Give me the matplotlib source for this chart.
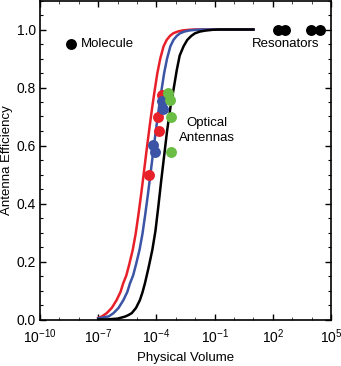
import numpy as np
import matplotlib.pyplot as plt
from matplotlib.ticker import FixedLocator, LogFormatterSciNotation, NullFormatter

plt.rcParams['font.family'] = ['Liberation Sans', 'DejaVu Sans']
plt.rcParams['mathtext.fontset'] = 'custom'
plt.rcParams['mathtext.rm'] = 'Liberation Sans'
plt.rcParams['mathtext.it'] = 'Liberation Sans'

# curves: log10(volume) vs efficiency
red_logv = [-7.0, -6.8, -6.56, -6.3, -6.05, -5.85, -5.71, -5.55, -5.4, -5.22, -5.07, -4.93,
            -4.78, -4.64, -4.5, -4.35, -4.22, -4.1, -3.95, -3.8, -3.63, -3.47, -3.3, -3.13,
            -2.9, -2.63, -2.3, -2.0, 1.0]
red_eff = [0.005, 0.011, 0.022, 0.040, 0.067, 0.095, 0.125, 0.152, 0.19, 0.24, 0.295, 0.36,
           0.435, 0.51, 0.587, 0.665, 0.73, 0.785, 0.85, 0.90, 0.942, 0.964, 0.978, 0.987,
           0.993, 0.997, 0.999, 1.0, 1.0]

blue_logv = [-7.0, -6.75, -6.45, -6.21, -5.95, -5.7, -5.5, -5.36, -5.2, -5.05, -4.87, -4.72,
             -4.58, -4.43, -4.29, -4.15, -4.0, -3.87, -3.75, -3.6, -3.45, -3.28, -3.12, -2.95,
             -2.78, -2.55, -2.28, -1.95, -1.65, 1.0]
blue_eff = [0.004, 0.007, 0.011, 0.022, 0.040, 0.067, 0.095, 0.125, 0.152, 0.19, 0.24, 0.295,
            0.36, 0.435, 0.51, 0.587, 0.665, 0.73, 0.785, 0.85, 0.90, 0.942, 0.964, 0.978,
            0.987, 0.993, 0.997, 0.999, 1.0, 1.0]

black_logv = [-7.0, -6.5, -6.0, -5.62, -5.45, -5.27, -5.05, -4.85, -4.72, -4.59, -4.4, -4.21,
              -4.05, -3.9, -3.75, -3.6, -3.45, -3.28, -3.1, -2.95, -2.8, -2.6, -2.41, -2.2,
              -2.01, -1.75, -1.5, -1.1, -0.8, 1.0]
black_eff = [0.0, 0.0005, 0.003, 0.01, 0.015, 0.022, 0.040, 0.067, 0.093, 0.125, 0.18, 0.24,
             0.305, 0.39, 0.48, 0.565, 0.65, 0.73, 0.80, 0.86, 0.91, 0.942, 0.964, 0.978,
             0.987, 0.993, 0.996, 0.999, 1.0, 1.0]

# optical antenna points
red_pts_logv = [-3.70, -3.92, -3.87, -4.37]
red_pts_eff = [0.774, 0.70, 0.65, 0.50]
blue_pts_logv = [-3.73, -3.64, -4.19, -4.07]
blue_pts_eff = [0.753, 0.725, 0.602, 0.579]
green_pts_logv = [-3.39, -3.30, -3.26, -3.25]
green_pts_eff = [0.78, 0.757, 0.70, 0.579]

molecule_logv = [-8.42]
molecule_eff = [0.951]
resonator_logv = [2.27, 2.63, 3.97, 4.45]
resonator_eff = [1.0, 1.0, 1.0, 1.0]

RED = '#e8202a'
BLUE = '#3b54a5'
GREEN = '#6cbd45'

fig = plt.figure(figsize=(3.41, 3.66), dpi=100)
ax = fig.add_axes([40 / 341, 1 - 319.5 / 366, 291 / 341, 319 / 366])

ax.plot(10 ** np.array(red_logv), red_eff, color=RED, lw=1.8, zorder=2)
ax.plot(10 ** np.array(blue_logv), blue_eff, color=BLUE, lw=1.8, zorder=2)
ax.plot(10 ** np.array(black_logv), black_eff, color='black', lw=1.8, zorder=2)

ms = 62
ax.scatter(10 ** np.array(red_pts_logv), red_pts_eff, s=ms, color=RED, lw=0, zorder=3)
ax.scatter(10 ** np.array(blue_pts_logv), blue_pts_eff, s=ms, color=BLUE, lw=0, zorder=4)
ax.scatter(10 ** np.array(green_pts_logv), green_pts_eff, s=ms, color=GREEN, lw=0, zorder=5)
ax.scatter(10 ** np.array(molecule_logv), molecule_eff, s=ms, color='black', lw=0, zorder=5)
ax.scatter(10 ** np.array(resonator_logv), resonator_eff, s=ms, color='black', lw=0, zorder=5)

ax.text(10 ** -7.88, 0.951, 'Molecule', fontsize=9.5, va='center', ha='left')
ax.text(10 ** 2.65, 0.951, 'Resonators', fontsize=9.5, va='center', ha='center')
ax.text(10 ** -1.39, 0.652, 'Optical\nAntennas', fontsize=9.5, va='center', ha='center',
        linespacing=1.3)

ax.set_xscale('log')
ax.set_xlim(1e-10, 1e5)
ax.set_ylim(0, 1.1)
ax.xaxis.set_major_locator(FixedLocator([1e-10, 1e-7, 1e-4, 1e-1, 1e2, 1e5]))
ax.xaxis.set_major_formatter(LogFormatterSciNotation())
ax.xaxis.set_minor_locator(FixedLocator([10.0 ** k for k in range(-10, 6)]))
ax.xaxis.set_minor_formatter(NullFormatter())
ax.set_yticks([0.0, 0.2, 0.4, 0.6, 0.8, 1.0])
ax.set_yticklabels(['0.0', '0.2', '0.4', '0.6', '0.8', '1.0'])
ax.set_yticks(np.arange(0, 1.101, 0.05), minor=True)

ax.tick_params(which='both', direction='in', top=True, right=True, labelsize=10, pad=3)
ax.tick_params(axis='x', which='major', pad=6)
ax.tick_params(which='major', length=4, width=1.0)
ax.tick_params(which='minor', length=2.5, width=0.8)
ax.tick_params(axis='x', which='minor', length=2, width=0.5)
for sp in ax.spines.values():
    sp.set_linewidth(1.2)

ax.set_xlabel('Physical Volume', fontsize=9.5, labelpad=4)
ax.set_ylabel('Antenna Efficiency', fontsize=9.5)
ax.yaxis.set_label_coords(-0.093, 0.5)

fig.savefig('out.png', dpi=100)
